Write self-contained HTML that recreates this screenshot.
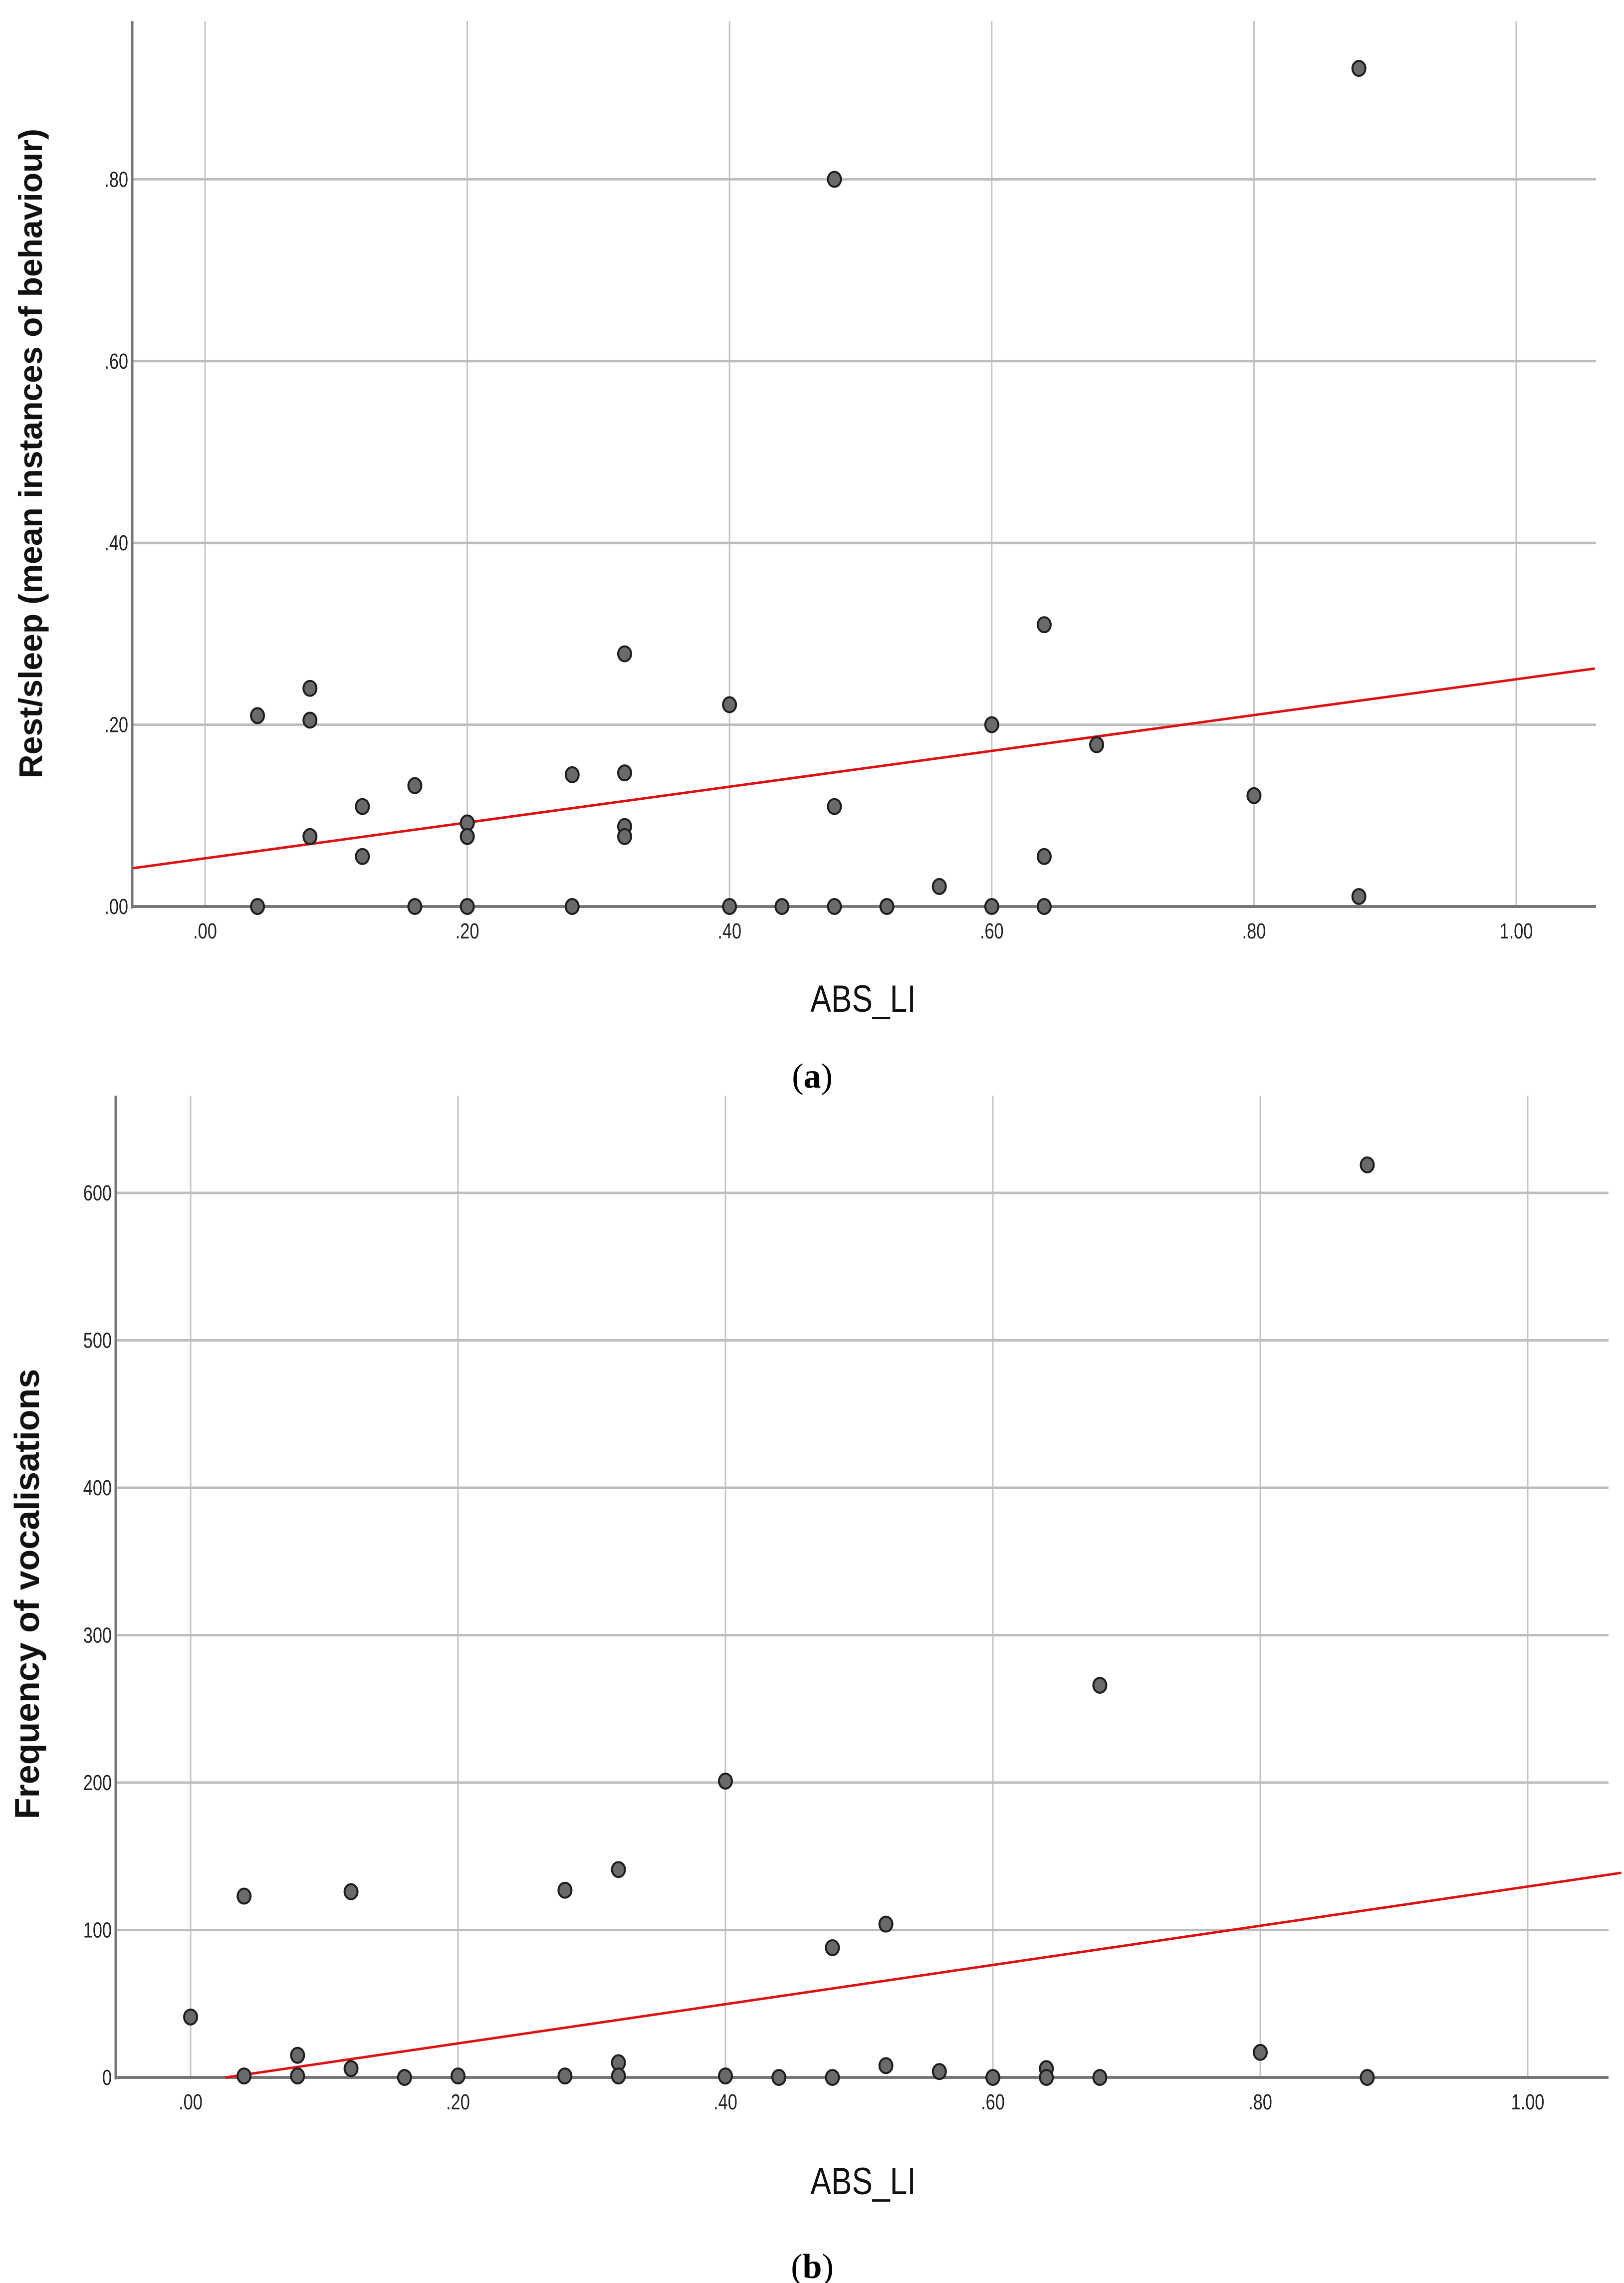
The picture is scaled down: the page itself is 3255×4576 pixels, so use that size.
<!DOCTYPE html>
<html><head><meta charset="utf-8"><style>
html,body{margin:0;padding:0;background:#fff;}
svg{display:block;}
</style></head><body>
<svg id="chart" width="3255" height="4576" xmlns="http://www.w3.org/2000/svg" font-family="'Liberation Sans', sans-serif"></svg>
<script>
// Panel (a) data
const aX = [0.04,0.04,0.08,0.08,0.08,0.12,0.12,0.16,0.16,0.20,0.20,0.20,0.28,0.28,0.32,0.32,0.32,0.32,0.40,0.40,0.44,0.48,0.48,0.48,0.52,0.56,0.60,0.60,0.64,0.64,0.64,0.68,0.80,0.88,0.88];
const aY = [0.21,0,0.24,0.205,0.077,0.11,0.055,0.133,0,0.092,0.077,0,0.145,0,0.278,0.147,0.088,0.077,0.222,0,0,0.80,0.11,0,0,0.022,0.20,0,0.31,0.055,0,0.178,0.122,0.922,0.011];
const aFit = [0.053,0.197];
const aXTicks = [".00",".20",".40",".60",".80","1.00"];
const aYTicks = [".00",".20",".40",".60",".80"];
// Panel (b) data
const bX = [0,0.04,0.04,0.08,0.08,0.12,0.12,0.16,0.20,0.28,0.28,0.32,0.32,0.32,0.40,0.40,0.44,0.48,0.48,0.52,0.52,0.56,0.60,0.64,0.64,0.68,0.68,0.80,0.88,0.88];
const bY = [41,123,1,15,1,126,6,0,1,127,1,141,10,1,201,1,0,88,0,104,8,4,0,6,0,266,0,17,619,0];
const bFit = [-3.5,133];
const bXTicks = [".00",".20",".40",".60",".80","1.00"];
const bYTicks = ["0","100","200","300","400","500","600"];

const NS="http://www.w3.org/2000/svg";
const svg=document.getElementById('chart');
function mk(tag,attrs,parent){const e=document.createElementNS(NS,tag);for(const k in attrs)e.setAttribute(k,attrs[k]);(parent||svg).appendChild(e);return e;}

function panel(cfg){
  const g=mk('g',{});
  
  
  const sx=v=>cfg.x0+(v)*cfg.xs;
  const sy=v=>cfg.y0-(v)*cfg.ys;
  cfg.xt.forEach((t,i)=>{const v=i*0.2;const x=sx(v);
    const l=mk('line',{x1:x,x2:x,y1:cfg.top,y2:cfg.y0,stroke:'#c4c4c4','stroke-width':3},g);
    
    
    const t2=mk('text',{x:x,y:cfg.y0+64,'font-size':44,'text-anchor':'middle',fill:'#222',transform:`translate(${x},0) scale(0.78,1) translate(${-x},0)`},g);t2.textContent=t;
    
    
  });
  cfg.yt.forEach((t,i)=>{const v=i*cfg.ystep;const y=sy(v);
    if(i>0){const l=mk('line',{x1:cfg.left,x2:cfg.right,y1:y,y2:y,stroke:'#bdbdbd','stroke-width':5},g);
    
    }
    const xx=cfg.left-8;
    const t2=mk('text',{x:xx,y:y+15,'font-size':44,'text-anchor':'end',fill:'#222',transform:`translate(${xx},0) scale(0.78,1) translate(${-xx},0)`},g);t2.textContent=t;
    
    
  });
  const ax=mk('line',{x1:cfg.left,x2:cfg.left,y1:cfg.top,y2:cfg.y0+4,stroke:'#777','stroke-width':5},g);
  
  
  const bx=mk('line',{x1:cfg.left,x2:cfg.right,y1:cfg.y0,y2:cfg.y0,stroke:'#777','stroke-width':6},g);
  
  
  const x1=cfg.fitFrom, x2=cfg.fitTo;
  const fl=mk('line',{x1:sx(x1),y1:sy(cfg.fit[0]+cfg.fit[1]*x1),x2:sx(x2),y2:sy(cfg.fit[0]+cfg.fit[1]*x2),stroke:'#dd1111','stroke-width':5},g);
  
  
  cfg.X.forEach((xv,i)=>{
    const c=mk('ellipse',{cx:sx(xv),cy:sy(cfg.Y[i]),rx:13,ry:15,fill:'#6a6a6a',stroke:'#1e1e1e','stroke-width':4},g);
    
    
  });
  const xt=mk('text',{x:cfg.xtx,y:cfg.xty,'font-size':76,'text-anchor':'middle',fill:'#111',transform:`translate(${cfg.xtx},0) scale(0.82,1) translate(${-cfg.xtx},0)`},g);xt.textContent='ABS_LI';
  
  
  const yt=mk('text',{x:0,y:0,'font-size':cfg.ytfs,'font-weight':'bold','text-anchor':'middle',fill:'#111',transform:`translate(${cfg.ytx},${cfg.yty}) rotate(-90)`},g);yt.textContent=cfg.ytitle;
  
  
  const cap=mk('text',{x:1628,y:cfg.capy,'font-size':70,'text-anchor':'middle',fill:'#000','font-family':"'Liberation Serif', serif"},g);
  cap.innerHTML='(<tspan font-weight="bold">'+cfg.cap+'</tspan>)';
  
  
}
panel({name:'panel-a',X:aX,Y:aY,fit:aFit,xt:aXTicks,yt:aYTicks,ystep:0.2,x0:411,xs:2628,y0:1817,ys:1822,left:265,right:3199,top:42,fitFrom:-0.055,fitTo:1.06,xtx:1730,xty:2028,ytx:84,yty:909,ytfs:66,ytitle:'Rest/sleep (mean instances of behaviour)',capy:2180,cap:'a'});
panel({name:'panel-b',X:bX,Y:bY,fit:bFit,xt:bXTicks,yt:bYTicks,ystep:100,x0:382,xs:2680,y0:4164,ys:2.955,left:232,right:3224,top:2196,fitFrom:0.026,fitTo:1.07,xtx:1730,xty:4398,ytx:78,yty:3195,ytfs:70,ytitle:'Frequency of vocalisations',capy:4566,cap:'b'});
</script>
</body></html>
